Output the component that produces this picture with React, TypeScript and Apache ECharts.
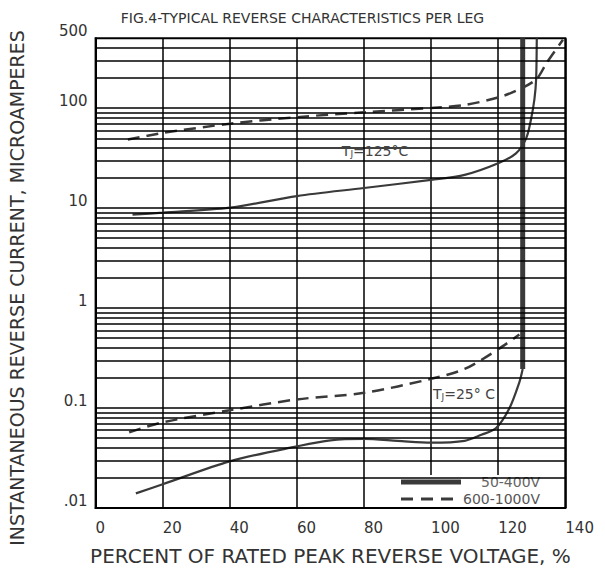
import { useEffect, useRef } from "react";
import * as echarts from "echarts";

const TITLE = "FIG.4-TYPICAL REVERSE CHARACTERISTICS PER LEG";
const X_NAME = "PERCENT OF RATED PEAK REVERSE VOLTAGE, %";
const Y_NAME = "INSTANTANEOUS REVERSE CURRENT, MICROAMPERES";
const SERIES_NAMES = ["50-400V", "600-1000V"];

const xMin = 0;
const xMax = 140;
const xInterval = 20;
const yMin = 0.01;
const yMax = 500;
const yLabelValues = [0.01, 0.1, 1, 10, 100, 500];
const yLabelTexts = [".01", "0.1", "1", "10", "100", "500"];

// Tj = 125 C, 50-400V (solid)
const hotLowX = [11, 20, 40, 60, 80, 100, 110, 120, 125.3, 128.3, 129.8, 130.8, 131.3, 131.5];
const hotLowY = [8.6, 9.0, 10.1, 13.2, 15.9, 19.2, 21.5, 28.1, 35.3, 49.6, 78, 123, 194, 500];

// Tj = 125 C, 600-1000V (dashed)
const hotHighX = [9.6, 20, 40, 60, 80, 100, 110, 120, 125.3, 131.3, 134.5, 139.3];
const hotHighY = [48.5, 56.5, 69.8, 81.3, 91, 100.5, 107.6, 128, 149, 194, 286, 483];

// Tj = 25 C, 600-1000V (dashed)
const coldHighX = [10, 20, 40, 60, 80, 100, 110, 120, 126.3];
const coldHighY = [0.0573, 0.0719, 0.0951, 0.122, 0.142, 0.196, 0.246, 0.387, 0.545];

// Tj = 25 C, 50-400V (solid)
const coldLowX = [12, 20, 40, 60, 70, 80, 90, 100, 110, 115, 119.3, 123.3, 126.3, 127.3];
const coldLowY = [0.014, 0.0173, 0.0293, 0.0413, 0.0475, 0.049, 0.047, 0.045, 0.047, 0.054, 0.0627, 0.0989, 0.181, 0.246];

// breakdown (thick vertical), 50-400V
const breakX = [127.3, 127.3];
const breakY = [0.246, 500];

const annotTexts = ["{t|T}{s|J}{t|=125°C}", "{t|T}{s|J}{t|=25° C}"];
const annotX = [83.3, 109.8];
const annotY = [37.2, 0.137];

const FONT = "'DejaVu Sans', sans-serif";
const INK = "#333";

const pairs = (xs: number[], ys: number[]) => xs.map((x, i) => [x, ys[i]]);

// horizontal log grid values: 1..9 x each decade
const gridValues: number[] = [];
for (let e = -2; e <= 2; e++) {
  for (let k = 1; k <= 9; k++) {
    const v = parseFloat((k * Math.pow(10, e)).toPrecision(3));
    if (v > yMin && v < yMax) gridValues.push(v);
  }
}

export default function App() {
  const ref = useRef<HTMLDivElement>(null);
  useEffect(() => {
    if (!ref.current) return;
    const chart = echarts.init(ref.current, null, { renderer: "svg" });
    const curveColor = "#3a3a3a";
    chart.setOption({
      animation: false,
      backgroundColor: "#fff",
      title: {
        text: TITLE,
        left: "center",
        top: 6,
        textStyle: { fontFamily: FONT, fontSize: 14, fontWeight: "normal", color: INK },
      },
      grid: {
        left: 95.6,
        right: 39.7,
        top: 38.3,
        bottom: 57,
        show: true,
        borderColor: "#000",
        borderWidth: 2,
        backgroundColor: "#fff",
      },
      xAxis: {
        type: "value",
        min: xMin,
        max: xMax,
        interval: xInterval,
        name: X_NAME,
        nameLocation: "middle",
        nameGap: 38,
        nameTextStyle: { fontFamily: FONT, fontSize: 20, color: INK },
        axisLine: { show: true, lineStyle: { color: "#000", width: 2 } },
        axisTick: { show: false },
        splitLine: { show: true, lineStyle: { color: "#000", width: 1.5 } },
        axisLabel: {
          align: "left",
          margin: 12,
          fontFamily: FONT,
          fontSize: 15,
          color: INK,
          showMaxLabel: true,
        },
      },
      yAxis: {
        type: "log",
        logBase: 10,
        min: yMin,
        max: yMax,
        axisLine: { show: true, lineStyle: { color: "#000", width: 2 } },
        axisTick: { show: false },
        splitLine: { show: false },
        axisLabel: {
          customValues: yLabelValues,
          formatter: (v: number) => {
            const i = yLabelValues.findIndex((u) => Math.abs(Math.log10(u) - Math.log10(v)) < 1e-6);
            return i >= 0 ? yLabelTexts[i] : "";
          },
          verticalAlign: "bottom",
          margin: 8,
          fontFamily: FONT,
          fontSize: 15,
          color: INK,
          showMinLabel: true,
          showMaxLabel: true,
        },
      },
      legend: [
        {
          data: [SERIES_NAMES[0]],
          left: 396,
          top: 475,
          icon: "rect",
          itemWidth: 60,
          itemHeight: 5,
          padding: [0, 4, 4, 5],
          backgroundColor: "#fff",
          selectedMode: false,
          itemStyle: { color: curveColor },
          textStyle: { fontFamily: FONT, fontSize: 14, lineHeight: 14, color: "#666", padding: [0, 0, 0, 15] },
        },
        {
          data: [SERIES_NAMES[1]],
          left: 396,
          top: 492,
          icon: "path://M0,0h12v3h-12z M20,0h12v3h-12z M40,0h12v3h-12z",
          itemWidth: 52,
          itemHeight: 3,
          padding: [0, 4, 0, 5],
          backgroundColor: "#fff",
          selectedMode: false,
          itemStyle: { color: curveColor },
          textStyle: { fontFamily: FONT, fontSize: 14, lineHeight: 14, color: "#555", padding: [0, 0, 0, 5] },
        },
      ],
      graphic: [
        {
          type: "rect",
          z: 2,
          silent: true,
          shape: { x: 398, y: 476, width: 164, height: 31 },
          style: { fill: "#fff" },
        },
        {
          type: "text",
          x: 17,
          y: 288,
          rotation: Math.PI / 2,
          style: {
            text: Y_NAME,
            fontFamily: FONT,
            fontSize: 19,
            fill: INK,
            align: "center",
            verticalAlign: "middle",
          },
        },
      ],
      series: [
        {
          type: "line",
          name: "grid",
          data: [],
          symbol: "none",
          silent: true,
          z: 1,
          markLine: {
            silent: true,
            symbol: ["none", "none"],
            label: { show: false },
            lineStyle: { color: "#000", width: 1.5, type: "solid" },
            data: gridValues.map((v) => ({ yAxis: v })),
          },
          markPoint: {
            silent: true,
            symbol: "rect",
            symbolSize: 1,
            itemStyle: { color: "rgba(0,0,0,0)" },
            label: {
              show: true,
              position: "inside",
              rich: {
                t: { fontFamily: FONT, fontSize: 14, color: "#444" },
                s: { fontFamily: FONT, fontSize: 9, color: "#444", verticalAlign: "bottom" },
              },
            },
            data: annotTexts.map((t, i) => ({
              coord: [annotX[i], annotY[i]],
              label: { formatter: t },
            })),
          },
        },
        {
          type: "line",
          name: SERIES_NAMES[0],
          data: pairs(hotLowX, hotLowY),
          symbol: "none",
          smooth: 0.3,
          z: 3,
          lineStyle: { color: curveColor, width: 2.2 },
          itemStyle: { color: curveColor },
        },
        {
          type: "line",
          name: SERIES_NAMES[1],
          data: pairs(hotHighX, hotHighY),
          symbol: "none",
          smooth: 0.3,
          z: 3,
          lineStyle: { color: curveColor, width: 2.5, type: [12, 7] },
          itemStyle: { color: curveColor },
        },
        {
          type: "line",
          name: SERIES_NAMES[1],
          data: pairs(coldHighX, coldHighY),
          symbol: "none",
          smooth: 0.3,
          z: 3,
          lineStyle: { color: curveColor, width: 2.5, type: [12, 7] },
          itemStyle: { color: curveColor },
        },
        {
          type: "line",
          name: SERIES_NAMES[0],
          data: pairs(coldLowX, coldLowY),
          symbol: "none",
          smooth: 0.3,
          z: 3,
          lineStyle: { color: curveColor, width: 2.2 },
          itemStyle: { color: curveColor },
        },
        {
          type: "line",
          name: SERIES_NAMES[0],
          data: pairs(breakX, breakY),
          symbol: "none",
          z: 3,
          lineStyle: { color: curveColor, width: 5 },
          itemStyle: { color: curveColor },
        },
      ],
    });
    return () => chart.dispose();
  }, []);
  return (
    <div
      ref={ref}
      style={{ position: "fixed", left: 0, top: 0, width: 605, height: 571, background: "#fff" }}
    />
  );
}
